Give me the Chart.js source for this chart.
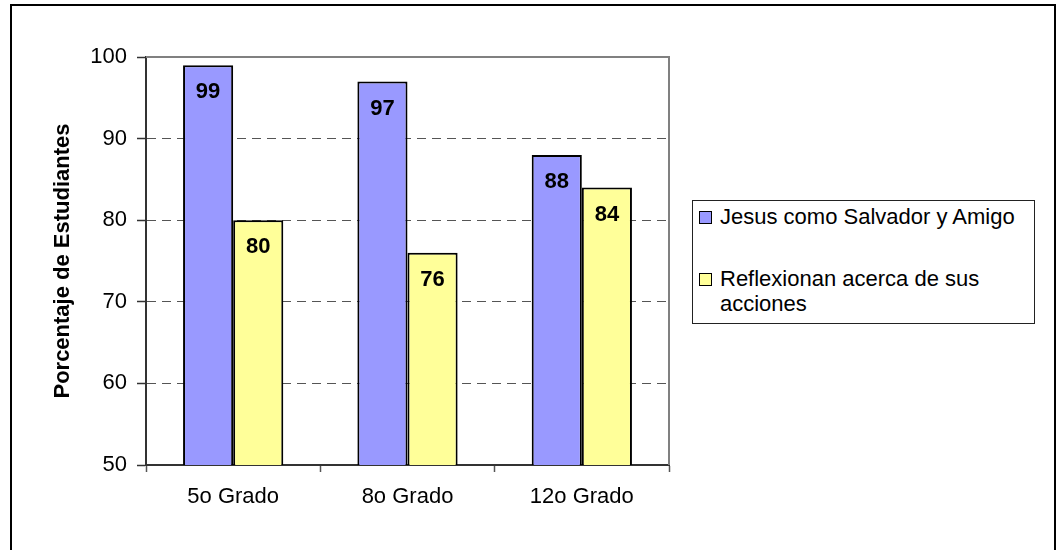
<!DOCTYPE html>
<html>
<head>
<meta charset="utf-8">
<script src="https://cdn.jsdelivr.net/npm/chart.js@4"></script>
<style>
  html, body { margin: 0; padding: 0; background: #fff; overflow: hidden; }
  body { width: 1056px; height: 550px; position: relative; font-family: 'Liberation Sans', Arial, sans-serif; }
  #frame { position: absolute; left: 10px; top: 4px; width: 1046px; height: 600px; box-sizing: border-box; border: 2px solid #000; }
  #wrap { position: absolute; left: 0; top: 0; width: 1056px; height: 550px; }
  #legend { position: absolute; left: 692px; top: 200px; width: 343px; height: 124px; box-sizing: border-box;
            border: 1px solid #222; background: #fff; }
  .item { position: absolute; left: 27px; font-size: 22px; line-height: 25px; color: #000; width: 300px; }
  .sw { position: absolute; left: -21px; top: 7px; width: 11px; height: 11px; border: 1.5px solid #000; }
</style>
</head>
<body>
<div id="frame"></div>
<div id="wrap"><canvas id="chart" width="1056" height="550"></canvas></div>
<div id="legend"></div>
<script>
// datos del gráfico
const grados = ['5o Grado', '8o Grado', '12o Grado'];
const jesus = [99, 97, 88];
const reflexionan = [80, 76, 84];
const seriesNames = ['Jesus como Salvador y Amigo', 'Reflexionan acerca de sus acciones'];
const yTicks = [50, 60, 70, 80, 90, 100];

const colors = {
  blue: '#9999FF',
  yellow: '#FFFF99',
  grid: '#555555',
  frame: '#808080',
  axis: '#333333',
};

const fontFamily = "'Liberation Sans', Arial, sans-serif";

// etiquetas de valor dentro de las barras
const valueLabels = {
  id: 'valueLabels',
  afterDatasetsDraw(chart) {
    const ctx = chart.ctx;
    ctx.save();
    ctx.font = `bold 22px ${fontFamily}`;
    ctx.fillStyle = '#000';
    ctx.textAlign = 'center';
    ctx.textBaseline = 'middle';
    chart.data.datasets.forEach((ds, i) => {
      chart.getDatasetMeta(i).data.forEach((bar, j) => {
        ctx.fillText(String(ds.data[j]), bar.x, bar.y + 27);
      });
    });
    ctx.restore();
  }
};

// borde gris arriba y a la derecha del área
const plotFrame = {
  id: 'plotFrame',
  beforeDatasetsDraw(chart) {
    const { ctx, chartArea: a } = chart;
    ctx.save();
    ctx.strokeStyle = colors.frame;
    ctx.lineWidth = 2;
    ctx.beginPath();
    ctx.moveTo(a.left, a.top);
    ctx.lineTo(a.right, a.top);
    ctx.lineTo(a.right, a.bottom);
    ctx.stroke();
    ctx.restore();
  }
};

new Chart(document.getElementById('chart'), {
  type: 'bar',
  data: {
    labels: grados,
    datasets: [
      {
        label: seriesNames[0],
        data: jesus,
        backgroundColor: colors.blue,
        borderColor: '#000',
        borderWidth: 2,
        borderSkipped: false,
      },
      {
        label: seriesNames[1],
        data: reflexionan,
        backgroundColor: colors.yellow,
        borderColor: '#000',
        borderWidth: 2,
        borderSkipped: false,
      }
    ]
  },
  options: {
    responsive: false,
    animation: false,
    categoryPercentage: 0.575,
    barPercentage: 1,
    layout: { padding: { left: 0, top: 57, right: 387, bottom: 0 } },
    plugins: {
      legend: { display: false },
      tooltip: { enabled: false }
    },
    scales: {
      x: {
        afterFit: (s) => { s.height = 85; },
        grid: {
          offset: true,
          drawOnChartArea: false,
          drawTicks: true,
          tickLength: 7,
          tickColor: colors.grid,
          tickWidth: 1.5,
        },
        border: { display: true, color: colors.axis, width: 2 },
        ticks: {
          color: '#000',
          padding: 12,
          font: { family: fontFamily, size: 22 }
        }
      },
      y: {
        min: 50,
        max: 100,
        afterFit: (s) => { s.width = 146; },
        afterBuildTicks: (s) => { s.ticks = yTicks.map(v => ({ value: v })); },
        grid: {
          color: (c) => (c.tick && c.tick.value > 50 && c.tick.value < 100) ? colors.grid : 'rgba(0,0,0,0)',
          lineWidth: 1,
          drawTicks: true,
          tickLength: 9,
          tickColor: colors.axis,
          tickBorderDash: [],
          tickWidth: 1.5,
        },
        border: { display: true, color: colors.axis, width: 2, dash: [9, 6] },
        ticks: {
          color: '#000',
          padding: 10,
          font: { family: fontFamily, size: 22 }
        },
        title: {
          display: true,
          text: 'Porcentaje de Estudiantes',
          color: '#000',
          padding: { top: 50, bottom: 0 },
          font: { family: fontFamily, size: 22, weight: 'bold' }
        }
      }
    }
  },
  plugins: [plotFrame, valueLabels]
});

// leyenda a la derecha
const legend = document.getElementById('legend');
const itemTops = [3, 65];
const swatchColors = [colors.blue, colors.yellow];
seriesNames.forEach((name, i) => {
  const item = document.createElement('div');
  item.className = 'item';
  item.style.top = itemTops[i] + 'px';
  const sw = document.createElement('span');
  sw.className = 'sw';
  sw.style.background = swatchColors[i];
  item.appendChild(sw);
  item.appendChild(document.createTextNode(name));
  legend.appendChild(item);
});
</script>
</body>
</html>
